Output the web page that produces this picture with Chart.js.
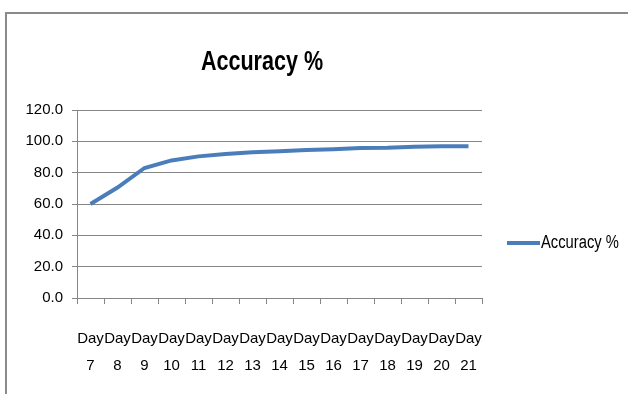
<!DOCTYPE html>
<html><head><meta charset="utf-8">
<script src="https://cdn.jsdelivr.net/npm/chart.js@4/dist/chart.umd.min.js"></script>
<style>html,body{margin:0;padding:0;background:#fff}#wrap{width:628px;height:394px;position:relative}</style>
</head><body><div id="wrap"><canvas id="c" width="628" height="394"></canvas></div>
<script>
const dayWord = 'Day';
const dayNumbers = ['7','8','9','10','11','12','13','14','15','16','17','18','19','20','21'];
const accuracy = [60.0, 70.5, 83.0, 87.8, 90.4, 91.9, 93.1, 93.7, 94.4, 95.0, 95.7, 95.9, 96.5, 96.9, 96.9];
const seriesName = 'Accuracy %';
const chartTitle = 'Accuracy %';
const yMin = 0, yMax = 120, yStep = 20;

const labels = dayNumbers.map(n => [dayWord, n]);
const lineColor = '#4a7ebb';
const gridColor = '#868686';
const axisFont = "'Liberation Sans', Arial, sans-serif";

function narrowText(ctx, text, x, y, sx) {
  ctx.save();
  ctx.translate(x, y);
  ctx.scale(sx, 1);
  ctx.fillText(text, 0, 0);
  ctx.restore();
}

const decor = {
  id: 'decor',
  beforeDraw(chart) {
    const ctx = chart.ctx;
    ctx.save();
    ctx.fillStyle = '#fff';
    ctx.fillRect(0, 0, chart.width, chart.height);
    ctx.strokeStyle = '#8a8a8a';
    ctx.lineWidth = 2;
    ctx.beginPath();
    ctx.moveTo(6, chart.height);
    ctx.lineTo(6, 13);
    ctx.lineTo(chart.width, 13);
    ctx.stroke();
    ctx.restore();
  },
  afterDraw(chart) {
    const ctx = chart.ctx;
    ctx.save();
    // title
    ctx.fillStyle = '#000';
    ctx.font = "bold 28px 'Liberation Sans', Arial, sans-serif";
    ctx.textAlign = 'center';
    ctx.textBaseline = 'alphabetic';
    narrowText(ctx, chartTitle, 262, 70, 0.77);
    // legend
    ctx.strokeStyle = lineColor;
    ctx.lineWidth = 4;
    ctx.beginPath();
    ctx.moveTo(507, 243);
    ctx.lineTo(540, 243);
    ctx.stroke();
    ctx.font = "18px " + axisFont;
    ctx.textAlign = 'left';
    ctx.textBaseline = 'middle';
    narrowText(ctx, seriesName, 541, 243, 0.82);
    ctx.restore();
  }
};

new Chart(document.getElementById('c'), {
  type: 'line',
  data: {
    labels: labels,
    datasets: [{
      label: seriesName,
      data: accuracy,
      borderColor: lineColor,
      backgroundColor: lineColor,
      borderWidth: 4,
      pointRadius: 0,
      tension: 0,
      fill: false
    }]
  },
  options: {
    responsive: false,
    animation: false,
    layout: { padding: { top: 110, right: 146, bottom: 20, left: 0 } },
    plugins: { legend: { display: false }, title: { display: false }, tooltip: { enabled: false } },
    scales: {
      x: {
        offset: true,
        grid: { offset: true, drawOnChartArea: false, drawTicks: true, tickLength: 6, color: gridColor, lineWidth: 1 },
        border: { color: gridColor, width: 1 },
        ticks: { color: '#000', font: { family: axisFont, size: 15, lineHeight: 1.75 }, maxRotation: 0, minRotation: 0, autoSkip: false, padding: 22 },
        afterFit(s) { s.height = 76; }
      },
      y: {
        min: yMin, max: yMax,
        grid: { color: gridColor, lineWidth: 1, tickLength: 5 },
        border: { color: gridColor, width: 1 },
        ticks: { stepSize: yStep, color: '#000', font: { family: axisFont, size: 15 }, padding: 9, callback: v => Number(v).toFixed(1) },
        afterFit(s) { s.width = 77; }
      }
    }
  },
  plugins: [decor]
});
</script></body></html>
